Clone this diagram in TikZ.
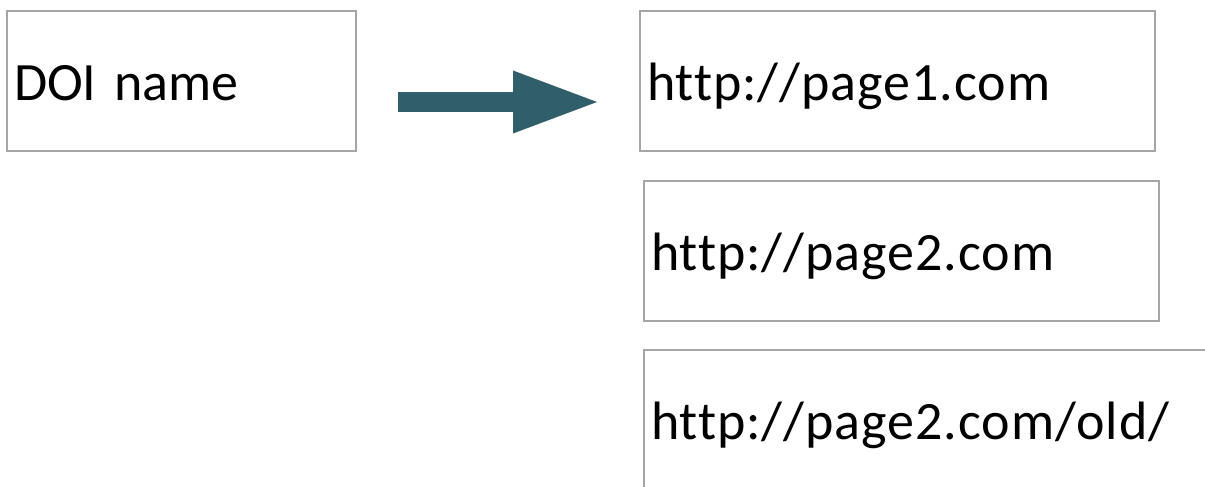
\documentclass[tikz,border=0pt]{standalone}
\usepackage{fontspec}
\setmainfont{Carlito}[Ligatures=NoCommon]
\newfontfamily\linkfont{Carlito}[Ligatures=NoCommon, LetterSpace=1.8]
\usepackage{xcolor}
\usepackage{tikz}
\usetikzlibrary{arrows.meta}
\definecolor{arrowteal}{RGB}{49,94,107}
\definecolor{boxgray}{RGB}{166,166,166}

\begin{document}
\begin{tikzpicture}[x=1pt, y=-1pt,
    namebox/.style={draw=boxgray, line width=2pt, anchor=north west, outer sep=0pt, inner xsep=7pt, inner ysep=0pt,
        minimum height=140pt, align=left, text height=44pt, text depth=6pt, font=\fontsize{54}{60}\selectfont},
    linkbox/.style={namebox, font=\fontsize{54}{60}\selectfont\linkfont},
    bigarrow/.style={arrowteal, line width=20pt, -{Triangle[length=84pt, width=63pt, line width=0pt]}}]
    \useasboundingbox (0,0) rectangle (1205,487);
    \clip (0,0) rectangle (1205,487);
    \node[namebox, text width=335pt] (doi) at (7,11) {DOI name};
    \node[linkbox, text width=501pt] (page1) at (640,11) {http://page1.com};
    \node[linkbox, text width=501pt] (page2) at (644,181) {http://page2.com};
    \node[linkbox, text width=580pt] (page2old) at (644,350) {http://page2.com/old/};
    \coordinate (tail) at (398,102);
    \coordinate (tip) at (597,102);
    \draw[bigarrow] (tail) -- (tip);
\end{tikzpicture}
\end{document}
